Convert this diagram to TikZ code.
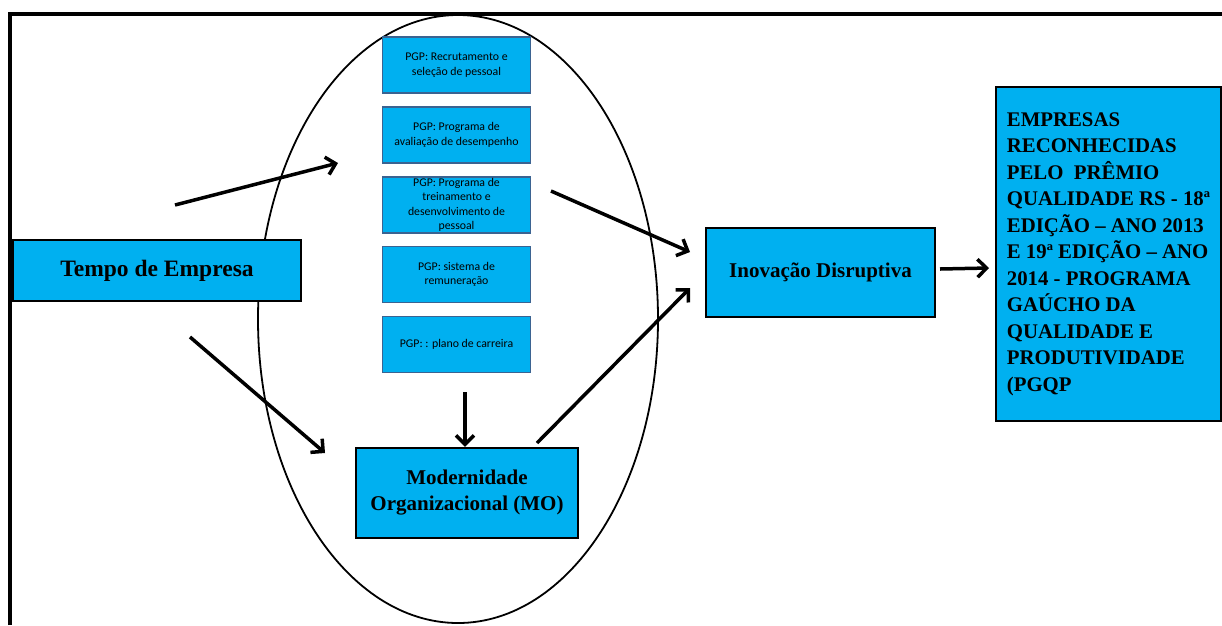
\documentclass[tikz,border=0pt]{standalone}
\usepackage{fontspec}
\setmainfont{Liberation Serif}
\newfontfamily\calib{Carlito}
\usetikzlibrary{arrows.meta}
\definecolor{cyanfill}{HTML}{00B0F0}
\definecolor{pgpedge}{HTML}{3B6391}
\begin{document}
\begin{tikzpicture}[x=1pt,y=-1pt,
 pgpbox/.style={draw=pgpedge,line width=1.8pt,fill=cyanfill,minimum width=148pt,minimum height=56pt,inner sep=0pt,align=center,font=\calib\fontsize{11.8}{14.5}\selectfont},
 mainbox/.style={draw=black,line width=2.2pt,fill=cyanfill,inner sep=0pt,align=center,font=\bfseries\fontsize{21}{26}\selectfont},
 arr/.style={line width=3.5pt,-{Straight Barb[length=9pt,width=18pt]}}
]
\useasboundingbox (0,0) rectangle (1222,625);
\fill[white] (0,0) rectangle (1222,625);
% ellipse
\draw[line width=1.8pt] (458,319) ellipse [x radius=200, y radius=304];
% frame
\draw[line width=4pt] (10,625) -- (10,14) -- (1222,14);
% PGP boxes
\node[pgpbox] (p1) at (456.5,65) {PGP: Recrutamento e\\seleção de pessoal};
\node[pgpbox] (p2) at (456.5,135) {PGP: Programa de\\avaliação de desempenho};
\node[pgpbox] (p3) at (456.5,205) {PGP: Programa de\\treinamento e\\desenvolvimento de\\pessoal};
\node[pgpbox] (p4) at (456.5,274.5) {PGP: sistema de\\remuneração};
\node[pgpbox] (p5) at (456.5,344.5) {PGP: : plano de carreira};
% main boxes
\node[mainbox,minimum width=288pt,minimum height=61pt,font=\bfseries\fontsize{23.5}{28}\selectfont] (tempo) at (157,270.5) {Tempo de Empresa};
\node[mainbox,minimum width=229pt,minimum height=89pt] (inov) at (820.5,272.5) {Inovação Disruptiva};
\node[mainbox,minimum width=222pt,minimum height=90pt] (mo) at (467,493) {Modernidade\\Organizacional (MO)};
\node[mainbox,minimum width=225pt,minimum height=334pt,align=left,font=\bfseries\fontsize{20.8}{26.5}\selectfont] (emp) at (1108.5,254) {EMPRESAS\\RECONHECIDAS\\PELO~ PRÊMIO\\QUALIDADE RS - 18ª\\EDIÇÃO – ANO 2013\\E 19ª EDIÇÃO – ANO\\2014 - PROGRAMA\\GAÚCHO DA\\QUALIDADE E\\PRODUTIVIDADE\\(PGQP};
% arrow end points
\coordinate (a1s) at (175,205);
\coordinate (a1e) at (338,163);
\coordinate (a2s) at (190,337);
\coordinate (a2e) at (325,453);
\coordinate (a3s) at (551,191);
\coordinate (a3e) at (690,252);
\coordinate (a4s) at (537,443);
\coordinate (a4e) at (690,288);
\coordinate (a5s) at (465,392);
\coordinate (a6s) at (940,269);
\coordinate (a6e) at (989,268);
\draw[arr] (a1s) -- (a1e);
\draw[arr] (a2s) -- (a2e);
\draw[arr] (a3s) -- (a3e);
\draw[arr] (a4s) -- (a4e);
\draw[arr] (a5s) -- (a5s |- mo.north);
\draw[arr] (a6s) -- (a6e);
\end{tikzpicture}
\end{document}
